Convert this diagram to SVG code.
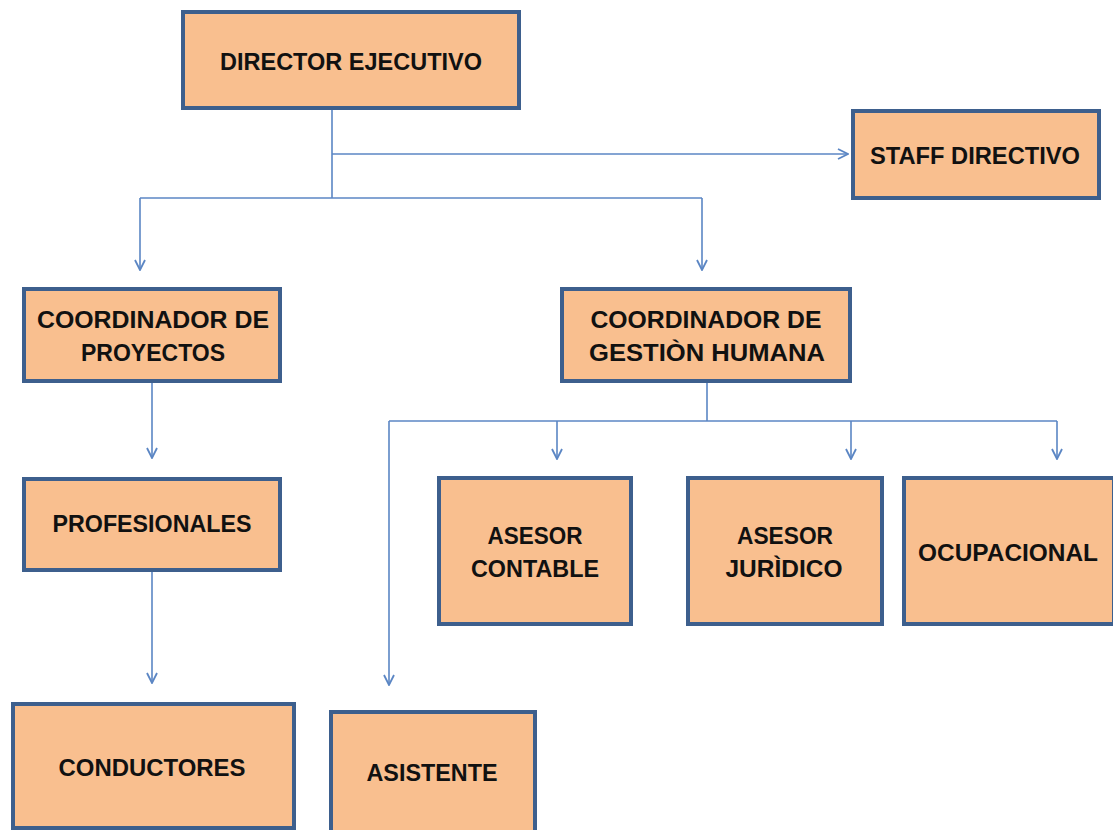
<svg xmlns="http://www.w3.org/2000/svg" width="1113" height="830" viewBox="0 0 1113 830">
<defs>
<style>
.box{fill:#f9bf8f;stroke:#3d5f8d;stroke-width:4}
.t{font-family:"Liberation Sans",Arial,sans-serif;font-weight:bold;font-size:23px;fill:#111;text-anchor:middle}
.c{fill:none;stroke:#5b86c4;stroke-width:1.6}
</style>
<marker id="arr" viewBox="0 0 12 12" refX="11" refY="6" markerWidth="12" markerHeight="12" markerUnits="userSpaceOnUse" orient="auto">
<polyline points="1,1 11,6 1,11" fill="none" stroke="#5b86c4" stroke-width="1.8"/>
</marker>
</defs>
<rect width="1113" height="830" fill="#fff"/>
<g id="connectors">
<line class="c" x1="332" y1="109" x2="332" y2="198"/>
<line class="c" x1="332" y1="154" x2="848" y2="154" marker-end="url(#arr)"/>
<polyline class="c" points="140,198 702,198"/>
<line class="c" x1="140" y1="198" x2="140" y2="270" marker-end="url(#arr)"/>
<line class="c" x1="702" y1="198" x2="702" y2="270" marker-end="url(#arr)"/>
<line class="c" x1="152" y1="382" x2="152" y2="458" marker-end="url(#arr)"/>
<line class="c" x1="152" y1="571" x2="152" y2="683" marker-end="url(#arr)"/>
<line class="c" x1="707" y1="382" x2="707" y2="421"/>
<polyline class="c" points="389,421 1057,421"/>
<line class="c" x1="557" y1="421" x2="557" y2="459" marker-end="url(#arr)"/>
<line class="c" x1="851" y1="421" x2="851" y2="459" marker-end="url(#arr)"/>
<line class="c" x1="1057" y1="421" x2="1057" y2="459" marker-end="url(#arr)"/>
<line class="c" x1="389" y1="421" x2="389" y2="685" marker-end="url(#arr)"/>
</g>
<g id="director">
<rect class="box" x="183" y="12" width="336" height="96"/>
<text class="t" x="351" y="70" textLength="262" lengthAdjust="spacingAndGlyphs">DIRECTOR EJECUTIVO</text>
</g>
<g id="staff">
<rect class="box" x="853" y="111" width="246" height="87"/>
<text class="t" x="975" y="164" textLength="210" lengthAdjust="spacingAndGlyphs">STAFF DIRECTIVO</text>
</g>
<g id="coord-proyectos">
<rect class="box" x="24" y="289" width="256" height="92"/>
<text class="t" x="153" y="328" textLength="232" lengthAdjust="spacingAndGlyphs">COORDINADOR DE</text>
<text class="t" x="153" y="361" textLength="144" lengthAdjust="spacingAndGlyphs">PROYECTOS</text>
</g>
<g id="coord-gestion">
<rect class="box" x="562" y="289" width="288" height="92"/>
<text class="t" x="706" y="328" textLength="231" lengthAdjust="spacingAndGlyphs">COORDINADOR DE</text>
<text class="t" x="707" y="361" textLength="236" lengthAdjust="spacingAndGlyphs">GESTIÒN HUMANA</text>
</g>
<g id="profesionales">
<rect class="box" x="24" y="479" width="256" height="91"/>
<text class="t" x="152" y="532" textLength="199" lengthAdjust="spacingAndGlyphs">PROFESIONALES</text>
</g>
<g id="conductores">
<rect class="box" x="13" y="704" width="281" height="124"/>
<text class="t" x="152" y="776" textLength="187" lengthAdjust="spacingAndGlyphs">CONDUCTORES</text>
</g>
<g id="asistente">
<rect class="box" x="331" y="712" width="204" height="120"/>
<text class="t" x="432" y="781" textLength="131" lengthAdjust="spacingAndGlyphs">ASISTENTE</text>
</g>
<g id="asesor-contable">
<rect class="box" x="439" y="478" width="192" height="146"/>
<text class="t" x="535" y="544" textLength="95" lengthAdjust="spacingAndGlyphs">ASESOR</text>
<text class="t" x="535" y="577" textLength="128" lengthAdjust="spacingAndGlyphs">CONTABLE</text>
</g>
<g id="asesor-juridico">
<rect class="box" x="688" y="478" width="194" height="146"/>
<text class="t" x="785" y="544" textLength="96" lengthAdjust="spacingAndGlyphs">ASESOR</text>
<text class="t" x="784" y="577" textLength="117" lengthAdjust="spacingAndGlyphs">JURÌDICO</text>
</g>
<g id="ocupacional">
<rect class="box" x="904" y="478" width="210" height="146"/>
<text class="t" x="1008" y="561" textLength="180" lengthAdjust="spacingAndGlyphs">OCUPACIONAL</text>
</g>
</svg>
